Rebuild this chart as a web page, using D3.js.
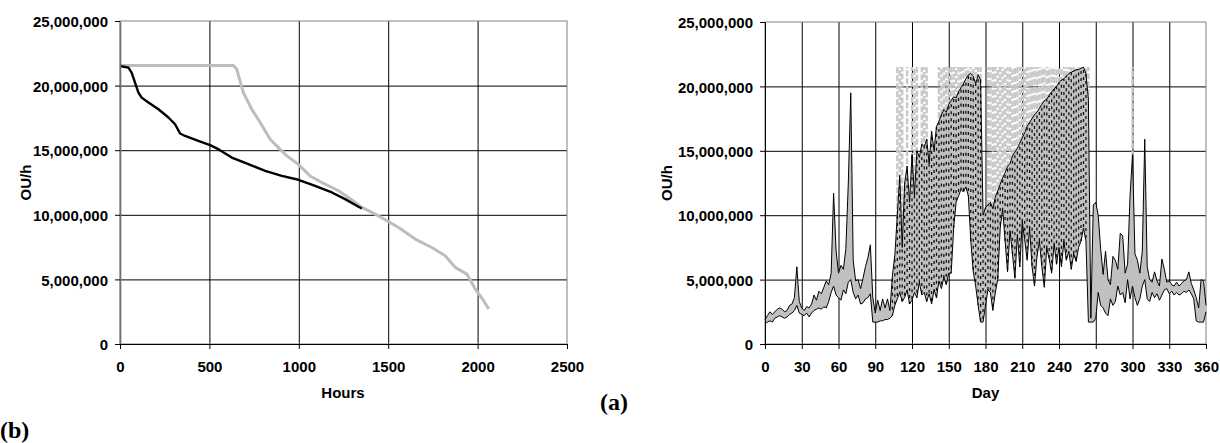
<!DOCTYPE html>
<html>
<head>
<meta charset="utf-8">
<script src="https://cdn.jsdelivr.net/npm/d3@7"></script>
<style>
    body { margin: 0; background: #fff; }
    text { font-family: "Liberation Sans", Arial, sans-serif; font-weight: bold; fill: #000; }
    .tag { font-family: "Liberation Serif", "Times New Roman", serif; }
</style>
</head>
<body>
<svg id="chart" width="1220" height="443"></svg>
<script>
// duration curves (a): hours vs OU/h, values in millions
const hoursGray = [0, 634, 653, 677, 690, 737, 784, 840, 886, 933, 998, 1063, 1129, 1222, 1278, 1353,
    1446, 1558, 1651, 1744, 1819, 1875, 1940, 1987, 2034, 2062];
const ouGray = [21.55, 21.55, 21.26, 20.1, 19.46, 18.17, 17.14, 15.85, 15.2, 14.56, 13.9, 13.0, 12.5,
    11.86, 11.34, 10.57, 9.92, 9.02, 8.12, 7.47, 6.83, 5.93, 5.41, 4.25, 3.35, 2.71];
const hoursBlack = [0, 47, 65, 84, 103, 121, 159, 215, 271, 308, 336, 364, 438, 504, 550, 625, 718,
    812, 905, 998, 1091, 1185, 1259, 1334, 1353];
const ouBlack = [21.52, 21.39, 21.0, 20.23, 19.46, 19.07, 18.69, 18.17, 17.53, 17.01, 16.29, 16.1,
    15.72, 15.39, 15.08, 14.43, 13.92, 13.4, 13.01, 12.71, 12.24, 11.73, 11.21, 10.62, 10.49];

const hourTicks = [0, 500, 1000, 1500, 2000, 2500];
const ouTicks = [0, 5000000, 10000000, 15000000, 20000000, 25000000];
const dayTicks = [0, 30, 60, 90, 120, 150, 180, 210, 240, 270, 300, 330, 360];

// time series (b): daily range every 2 days (day 0..360), values in millions
const dayStep = 2;
const dayLow = [
    1.6, 1.7, 1.8, 1.7, 2.0, 2.1, 2.2, 2.1, 2.0, 2.1,
    2.3, 2.4, 2.6, 3.0, 2.4, 2.3, 2.2, 2.4, 2.1, 2.4,
    2.6, 2.7, 2.8, 2.7, 2.9, 2.8, 3.3, 4.0, 4.5, 3.8,
    3.6, 3.4, 4.2, 3.9, 4.8, 5.0, 4.0, 3.5, 3.8, 3.1,
    3.2, 3.5, 3.6, 3.9, 1.7, 1.7, 1.7, 1.8, 1.8, 1.9,
    1.9, 2.0, 2.2, 3.0, 3.5, 4.0, 3.3, 3.6, 4.2, 3.1,
    3.4, 4.0, 3.6, 4.8, 3.8, 4.0, 3.3, 3.9, 3.1, 4.2,
    3.6, 4.9, 4.3, 5.2, 4.6, 5.5, 5.5, 9.0, 11.0, 11.5,
    12.0, 11.8, 12.2, 11.5, 8.0, 5.6, 4.5, 3.0, 1.7, 1.7,
    3.0, 4.2, 4.0, 2.6, 4.0, 5.0, 9.0, 10.5, 8.0, 5.6,
    8.8, 7.0, 5.1, 8.5, 6.0, 9.5, 8.1, 6.5, 9.0, 6.0,
    4.5, 6.8, 8.0, 6.0, 4.4, 7.5, 6.6, 5.5, 7.8, 6.2,
    7.5, 6.0, 8.0, 6.5, 7.2, 5.8, 7.0, 6.4, 7.5, 8.0,
    9.0, 8.0, 1.7, 1.7, 1.7, 2.0, 4.0, 3.0, 2.8, 2.4,
    2.2, 3.5, 3.0, 3.3, 4.5, 3.8, 4.0, 3.2, 5.0, 3.5,
    4.5, 3.6, 3.0, 3.5, 4.5, 5.0, 3.5, 3.3, 4.0, 3.6,
    3.9, 3.4, 3.8, 4.2, 4.3, 3.9, 4.1, 3.8, 4.0, 3.8,
    3.9, 4.1, 4.0, 4.2, 3.9, 3.5, 1.8, 1.7, 1.7, 1.7,
    2.5];
const dayHigh = [
    1.9, 2.2, 2.5, 2.3, 2.5, 2.7, 2.8, 2.7, 2.5, 2.6,
    3.0, 3.1, 3.6, 6.0, 3.3, 2.8, 2.6, 2.9, 2.8, 3.1,
    3.8, 3.4, 4.1, 3.9, 4.4, 4.9, 4.6, 5.5, 11.7, 7.3,
    5.5, 6.1, 5.8, 7.4, 12.5, 19.5, 6.5, 4.9, 5.0, 4.3,
    5.1, 6.0, 6.7, 7.7, 3.6, 2.4, 3.4, 2.6, 3.5, 2.8,
    3.5, 2.6, 5.3, 6.9, 10.0, 13.1, 7.5, 12.5, 13.8, 11.0,
    14.7, 11.5, 15.0, 14.5, 15.5, 15.3, 15.9, 14.0, 16.5, 15.0,
    16.9, 17.3, 17.8, 18.2, 18.0, 18.6, 18.9, 19.2, 19.1, 19.6,
    19.9, 20.2, 20.6, 20.9, 21.0, 20.8, 20.2, 20.9, 20.5, 10.0,
    10.6, 10.8, 11.0, 10.5, 11.4, 11.9, 12.4, 12.9, 13.3, 13.8,
    14.0, 14.6, 14.9, 15.2, 15.6, 16.0, 16.4, 16.9, 17.2, 17.5,
    17.8, 18.0, 18.3, 18.6, 18.9, 19.0, 19.3, 19.6, 19.8, 20.0,
    20.3, 20.5, 20.6, 20.8, 21.0, 21.1, 21.2, 21.3, 21.3, 21.4,
    21.5, 21.0, 19.0, 2.0, 10.8, 11.0, 10.0, 7.4, 5.4, 7.2,
    5.0, 4.6, 6.8, 6.5, 5.8, 8.6, 8.4, 5.5, 6.2, 11.5,
    14.7, 7.0, 6.5, 5.5, 7.2, 15.9, 6.0, 5.0, 4.8, 5.6,
    4.9, 4.5, 6.6, 5.8, 4.8, 4.9, 4.6, 4.5, 4.8, 4.5,
    4.7, 4.9, 5.0, 5.6, 4.7, 4.2, 3.6, 2.8, 5.0, 4.9,
    3.0];
// days on which the capped (grey dashed) series runs up to its limit
const grayCapRanges = [[108, 112], [116, 116], [120, 124], [128, 132], [142, 176], [182, 264], [300, 300]];
const grayCap = 21.5;

const svg = d3.select("#chart");
svg.append("rect").attr("width", 1220).attr("height", 443).attr("fill", "#fff");

const fmt = d3.format(",");

function panel(o) {
    const x = d3.scaleLinear().domain(o.xDomain).range([o.left, o.right]);
    const y = d3.scaleLinear().domain([0, 25000000]).range([o.bottom, o.top]);
    const g = svg.append("g");

    // grid
    g.append("g")
        .attr("transform", `translate(0,${o.bottom})`)
        .call(d3.axisBottom(x).tickValues(o.xTicks.slice(1, -1)).tickSize(-(o.bottom - o.top)).tickFormat(""))
        .call(a => a.select(".domain").remove())
        .selectAll("line").attr("stroke", "#000");
    g.append("g")
        .attr("transform", `translate(${o.left},0)`)
        .call(d3.axisLeft(y).tickValues(ouTicks.slice(1, -1)).tickSize(-(o.right - o.left)).tickFormat(""))
        .call(a => a.select(".domain").remove())
        .selectAll("line").attr("stroke", "#000");
    g.append("rect")
        .attr("x", o.left).attr("y", o.top)
        .attr("width", o.right - o.left).attr("height", o.bottom - o.top)
        .attr("fill", "none").attr("stroke", "#808080");

    const plot = svg.append("g");

    const axes = () => {
        const ya = svg.append("g")
            .attr("transform", `translate(${o.left},0)`)
            .call(d3.axisLeft(y).tickValues(ouTicks).tickSize(5).tickSizeOuter(0).tickPadding(7).tickFormat(fmt));
        ya.select(".domain").attr("stroke", o.yAxisColor).attr("stroke-width", o.yAxisWidth);
        ya.selectAll("line").attr("stroke", "#000");
        ya.selectAll("text").attr("font-size", 15).attr("dy", "0.38em");

        const xa = svg.append("g")
            .attr("transform", `translate(0,${o.bottom})`)
            .call(d3.axisBottom(x).tickValues(o.xTicks).tickSize(5).tickSizeOuter(0).tickPadding(12)
                .tickFormat(d3.format("d")));
        xa.select(".domain").attr("stroke", "#000");
        xa.selectAll("line").attr("stroke", "#000");
        xa.selectAll("text").attr("font-size", 15);

        svg.append("text")
            .attr("x", (o.left + o.right) / 2 + o.titleShift).attr("y", 398)
            .attr("text-anchor", "middle").attr("font-size", 15)
            .text(o.xTitle);
        svg.append("text")
            .attr("transform", `translate(${o.yTitleX},${(o.top + o.bottom) / 2}) rotate(-90)`)
            .attr("text-anchor", "middle").attr("dy", "0.36em").attr("font-size", 15)
            .text("OU/h");
    };
    return {x, y, plot, axes};
}

// ---- (a) duration curves ----
const pa = panel({
    left: 120, right: 567, top: 21, bottom: 344,
    xDomain: [0, 2500], xTicks: hourTicks, xTitle: "Hours", titleShift: -0.5,
    yTitleX: 26, yAxisColor: "#6e6e6e", yAxisWidth: 1.6
});
const lineA = (xs, ys) => d3.line()
    .x((d, i) => pa.x(xs[i]))
    .y((d, i) => pa.y(ys[i] * 1e6))(xs);

pa.plot.append("path")
    .attr("d", lineA(hoursGray, ouGray))
    .attr("fill", "none").attr("stroke", "#bdbdbd").attr("stroke-width", 3)
    .attr("stroke-linejoin", "round");
pa.plot.append("path")
    .attr("d", lineA(hoursBlack, ouBlack))
    .attr("fill", "none").attr("stroke", "#000").attr("stroke-width", 2.4)
    .attr("stroke-linejoin", "round");
pa.axes();

// ---- (b) daily series ----
const pb = panel({
    left: 765, right: 1206, top: 22, bottom: 344,
    xDomain: [0, 360], xTicks: dayTicks, xTitle: "Day", titleShift: 0,
    yTitleX: 667, yAxisColor: "#000", yAxisWidth: 1
});
const days = dayLow.map((d, i) => i * dayStep);
const inCap = day => grayCapRanges.some(r => day >= r[0] && day <= r[1]);

// grey capped series
pb.plot.append("g")
    .selectAll("line")
    .data(days.map((d, i) => i).filter(i => inCap(days[i])))
    .join("line")
    .attr("x1", i => pb.x(days[i])).attr("x2", i => pb.x(days[i]))
    .attr("y1", i => pb.y(dayHigh[i] * 1e6)).attr("y2", pb.y(grayCap * 1e6))
    .attr("stroke", "#c8c8c8").attr("stroke-width", 2.4)
    .attr("stroke-dasharray", "6,2")
    .attr("stroke-dashoffset", i => (i * 3) % 8);

// band
pb.plot.append("path")
    .attr("d", d3.area()
        .x((d, i) => pb.x(days[i]))
        .y0((d, i) => pb.y(dayLow[i] * 1e6))
        .y1((d, i) => pb.y(dayHigh[i] * 1e6))(days))
    .attr("fill", "#c0c0c0");

// dark hourly traces inside the dense part
pb.plot.append("g")
    .selectAll("line")
    .data(days.map((d, i) => i).filter(i => days[i] >= 104 && days[i] <= 262))
    .join("line")
    .attr("x1", i => pb.x(days[i])).attr("x2", i => pb.x(days[i]))
    .attr("y1", i => pb.y(dayLow[i] * 1e6)).attr("y2", i => pb.y(dayHigh[i] * 1e6))
    .attr("stroke", "#111").attr("stroke-width", 1.3)
    .attr("stroke-dasharray", "3,4")
    .attr("stroke-dashoffset", i => (i * 5) % 7);

[dayLow, dayHigh].forEach(vals => {
    pb.plot.append("path")
        .attr("d", d3.line()
            .x((d, i) => pb.x(days[i]))
            .y((d, i) => pb.y(vals[i] * 1e6))(days))
        .attr("fill", "none").attr("stroke", "#000").attr("stroke-width", 1);
});
pb.axes();

// panel tags
svg.append("text").attr("class", "tag").attr("x", 600).attr("y", 410).attr("font-size", 24).text("(a)");
svg.append("text").attr("class", "tag").attr("x", 0).attr("y", 438).attr("font-size", 24).text("(b)");
</script>
</body>
</html>
